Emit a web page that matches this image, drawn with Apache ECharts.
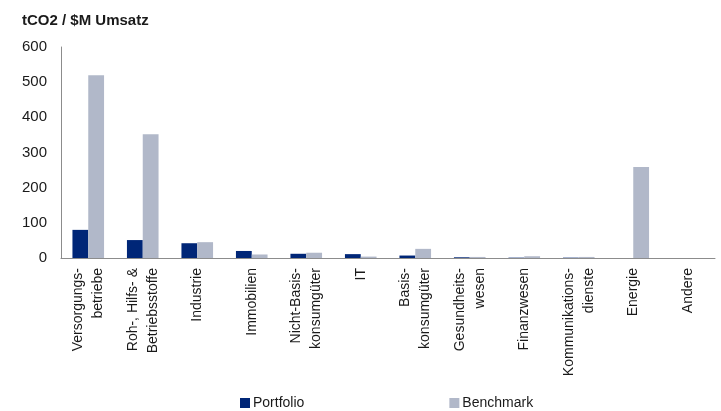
<!DOCTYPE html>
<html><head><meta charset="utf-8">
<script src="https://cdn.jsdelivr.net/npm/echarts@6/dist/echarts.min.js"></script>
<style>html,body{margin:0;padding:0;background:#fff}#c{width:721px;height:411px}</style>
</head><body><div id="c"></div>
<script>
const categories = ["Versorgungs-\nbetriebe","Roh-, Hilfs- &\nBetriebsstoffe","Industrie","Immobilien","Nicht-Basis-\nkonsumgüter","IT","Basis-\nkonsumgüter","Gesundheits-\nwesen","Finanzwesen","Kommunikations-\ndienste","Energie","Andere"];
const portfolio = [80, 51, 42, 20, 12, 11, 7, 2, 1, 1, 0, 0];
const benchmark = [520, 352, 45, 10, 15, 4, 26, 3, 5, 3, 259, 0];
const yTicks = [0, 100, 200, 300, 400, 500, 600];
const chart = echarts.init(document.getElementById('c'));
const font = 'Liberation Sans, Arial, sans-serif';
chart.setOption({
  animation: false,
  title: {text: 'tCO2 / $M Umsatz', left: 17, top: 8, textStyle: {fontFamily: font, fontSize: 15, fontWeight: 'bold', color: '#1a1a1a'}},
  grid: {left: 61, right: 6, top: 47, bottom: 153, containLabel: false},
  legend: {
    left: 240, top: 396, padding: 0, itemWidth: 10, itemHeight: 10, itemGap: 145,
    icon: 'rect', textStyle: {fontFamily: font, fontSize: 14, color: '#1a1a1a', padding: [0,0,0,-2]},
    data: ['Portfolio', 'Benchmark']
  },
  xAxis: {
    type: 'category', data: categories,
    axisLine: {lineStyle: {color: '#8c8c8c', width: 1}},
    axisTick: {show: false},
    axisLabel: {rotate: 90, interval: 0, margin: 10, fontFamily: font, fontSize: 14, color: '#1a1a1a', lineHeight: 20}
  },
  yAxis: {
    type: 'value', min: yTicks[0], max: yTicks[yTicks.length-1], interval: 100,
    axisLine: {show: true, lineStyle: {color: '#8c8c8c', width: 1}},
    axisTick: {show: false},
    splitLine: {show: false},
    axisLabel: {margin: 14, fontFamily: font, fontSize: 15, color: '#1a1a1a'}
  },
  series: [
    {name: 'Portfolio', type: 'bar', data: portfolio, barWidth: '29%', barGap: '0%', itemStyle: {color: '#002677'}},
    {name: 'Benchmark', type: 'bar', data: benchmark, barWidth: '29%', itemStyle: {color: '#b1b8c9'}}
  ]
});
</script></body></html>
